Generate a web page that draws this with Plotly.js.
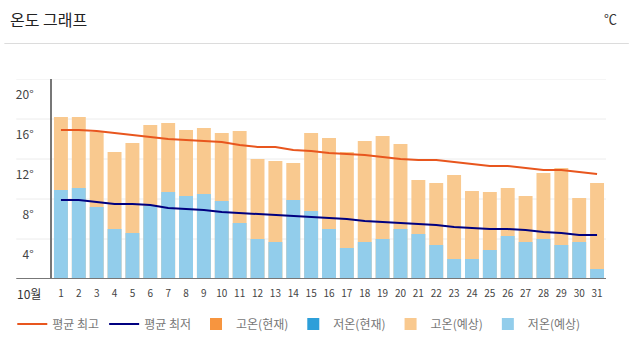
<!DOCTYPE html>
<html><head><meta charset="utf-8">
<script src="https://cdn.plot.ly/plotly-3.0.1.min.js"></script>
<style>html,body{margin:0;padding:0;background:#fff}#chart{width:629px;height:352px}</style>
</head><body><div id="chart"></div>
<script>
// ---- data ----
const days = [1,2,3,4,5,6,7,8,9,10,11,12,13,14,15,16,17,18,19,20,21,22,23,24,25,26,27,28,29,30,31];
const dayLabels = ["1","2","3","4","5","6","7","8","9","10","11","12","13","14","15","16","17","18","19","20","21","22","23","24","25","26","27","28","29","30","31"];
const monthLabel = "10월";
const highForecast = [16.2,16.2,14.7,12.7,13.6,15.4,15.6,14.9,15.1,14.6,14.8,12.0,11.8,11.6,14.6,14.1,12.7,13.8,14.3,13.5,9.9,9.6,10.4,8.8,8.7,9.1,8.3,10.6,11.1,8.1,9.6];
const lowForecast  = [8.9,9.1,7.2,5.0,4.6,7.3,8.7,8.3,8.5,7.8,5.6,4.0,3.7,7.9,6.8,5.0,3.1,3.7,4.0,5.0,4.5,3.4,2.0,2.0,2.9,4.3,3.7,4.0,3.4,3.7,1.0];
const highNow = [null];   // no observed values yet
const lowNow = [null];
const avgHigh = [14.9,14.9,14.8,14.6,14.4,14.2,14.0,13.9,13.8,13.7,13.4,13.2,13.2,12.9,12.8,12.6,12.5,12.4,12.2,12.0,11.9,11.9,11.7,11.5,11.3,11.3,11.1,10.9,10.9,10.7,10.5];
const avgLow  = [7.9,7.9,7.7,7.5,7.5,7.4,7.1,7.0,6.9,6.7,6.6,6.5,6.4,6.3,6.2,6.1,6.0,5.8,5.7,5.6,5.5,5.4,5.2,5.1,5.0,5.0,4.9,4.7,4.6,4.4,4.4];
const yTickVals = [4,8,12,16,20];
const yTickText = ["4°","8°","12°","16°","20°"];
const seriesNames = ["평균 최고","평균 최저","고온(현재)","저온(현재)","고온(예상)","저온(예상)"];
const chartTitle = "온도 그래프";
const unitLabel = "℃";

// ---- layout helpers ----
const W = 629, H = 352, L = 48, R = 23, T = 79, B = 73;
const pw = W - L - R, ph = H - T - B;
const px = x => (x - L) / pw;
const py = y => (H - B - y) / ph;
const FONT = '"Noto Sans CJK KR", "Noto Sans", sans-serif';

const traces = [
  {type:'bar', x:days, y:highForecast, name:seriesNames[4], legendrank:5,
   marker:{color:'#f9c98f', line:{width:0}}, hoverinfo:'skip'},
  {type:'bar', x:days, y:lowForecast, name:seriesNames[5], legendrank:6,
   marker:{color:'#92cdeb', line:{width:0}}, hoverinfo:'skip'},
  {type:'bar', x:days.slice(0, highNow.length), y:highNow, name:seriesNames[2], legendrank:3,
   marker:{color:'#f7953f', line:{width:0}}, hoverinfo:'skip'},
  {type:'bar', x:days.slice(0, lowNow.length), y:lowNow, name:seriesNames[3], legendrank:4,
   marker:{color:'#2d9fd9', line:{width:0}}, hoverinfo:'skip'},
  {type:'scatter', mode:'lines', x:days, y:avgHigh, name:seriesNames[0], legendrank:1,
   line:{color:'#e8561e', width:2}, hoverinfo:'skip'},
  {type:'scatter', mode:'lines', x:days, y:avgLow, name:seriesNames[1], legendrank:2,
   line:{color:'#000080', width:2}, hoverinfo:'skip'}
];

const shapes = yTickVals.map(v => ({type:'line', xref:'paper', yref:'y', x0:px(12), x1:1, y0:v, y1:v,
  line:{color:'#ececec', width:1}, layer:'below'}));
shapes.push({type:'line', xref:'paper', yref:'y', x0:px(12), x1:1, y0:0, y1:0,
  line:{color:'#777777', width:2}, layer:'above'});
shapes.push({type:'line', xref:'paper', yref:'paper', x0:px(0), x1:px(W), y0:py(43.5), y1:py(43.5),
  line:{color:'#dcdcdc', width:1}});

const layout = {
  width:W, height:H,
  margin:{l:L, r:R, t:T, b:B, pad:0},
  paper_bgcolor:'#fff', plot_bgcolor:'#fff',
  font:{family:FONT, color:'#333'},
  title:{text:chartTitle, x:10/W, xref:'container', xanchor:'left', y:1-20/H, yref:'container', yanchor:'middle',
    font:{family:FONT, size:16, color:'#222'}},
  barmode:'overlay', bargap:0.22,
  showlegend:true,
  legend:{orientation:'h', x:px(8), xanchor:'left', y:py(324), yanchor:'middle', traceorder:'normal',
    font:{family:FONT, size:12, color:'#777'}, itemwidth:30, bgcolor:'rgba(0,0,0,0)', itemclick:false, itemdoubleclick:false},
  xaxis:{range:[0.5,31.5], tickmode:'array', tickvals:days, ticktext:dayLabels, showgrid:false, zeroline:false,
    showline:false, ticks:'', tickfont:{family:FONT, size:10, color:'#444'}, ticklabelstandoff:7, fixedrange:true},
  yaxis:{range:[0,20], tickmode:'array', tickvals:yTickVals, ticktext:yTickText, showgrid:false, zeroline:false,
    showline:true, linecolor:'#777', linewidth:2, ticks:'', ticklabelshift:16, ticklabelstandoff:14,
    tickfont:{family:FONT, size:12, color:'#444'}, fixedrange:true},
  shapes:shapes,
  annotations:[
    {text:monthLabel, xref:'paper', yref:'paper', x:px(25), y:py(293), showarrow:false, xanchor:'center', yanchor:'middle',
     font:{family:FONT, size:12, color:'#333'}},
    {text:unitLabel, xref:'paper', yref:'paper', x:px(611), y:py(18), showarrow:false, xanchor:'center', yanchor:'middle',
     font:{family:FONT, size:13, color:'#333'}}
  ]
};

Plotly.newPlot('chart', traces, layout, {displayModeBar:false, staticPlot:true});
</script>
</body></html>
